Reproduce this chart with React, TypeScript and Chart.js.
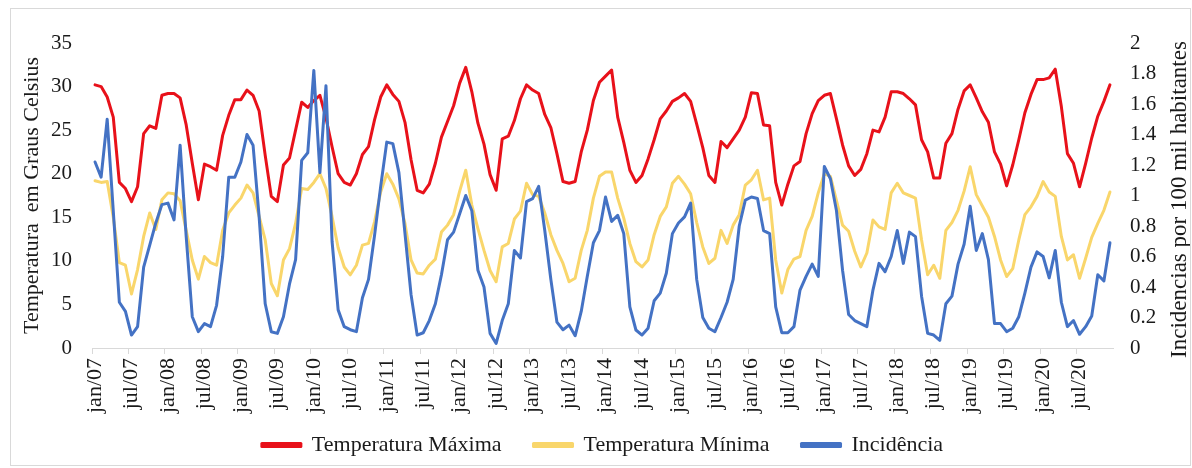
import React, { useEffect, useRef } from "react";
import { Chart, registerables } from "chart.js";

Chart.register(...registerables);

const years = ["07", "08", "09", "10", "11", "12", "13", "14", "15", "16", "17", "18", "19", "20"];
const monthNames = ["jan", "fev", "mar", "abr", "mai", "jun", "jul", "ago", "set", "out", "nov", "dez"];

// Temperatura Máxima (°C), jan/2007 .. dez/2020
const tempMax = [
  30.2, 30.0, 28.8, 26.5, 19.0, 18.3, 16.8, 18.5, 24.6, 25.5, 25.2, 29.0,
  29.2, 29.2, 28.7, 25.6, 21.2, 17.0, 21.1, 20.8, 20.4, 24.4, 26.7, 28.5,
  28.5, 29.6, 29.0, 27.2, 22.1, 17.4, 16.8, 21.0, 21.8, 25.0, 28.2, 27.6,
  28.4, 29.0, 26.4, 23.1, 20.0, 19.0, 18.7, 20.0, 22.2, 23.1, 26.2, 28.8,
  30.2, 29.1, 28.3, 25.9, 21.6, 18.1, 17.8, 18.8, 21.2, 24.2, 26.0, 27.8,
  30.4, 32.2, 29.4, 25.8, 23.4, 19.9, 18.1, 24.0, 24.3, 26.1, 28.6, 30.2,
  29.6, 29.2, 26.8, 25.3, 22.3, 19.1, 18.9, 19.1, 22.5, 25.0, 28.4, 30.5,
  31.2, 31.9, 26.5, 23.6, 20.4, 19.0, 19.8, 21.7, 23.9, 26.3, 27.2, 28.3,
  28.7, 29.2, 28.3, 25.7, 23.0, 19.8, 19.0, 23.7, 23.0, 24.0, 25.0, 26.5,
  29.3, 29.2, 25.6, 25.5, 19.0, 16.4, 18.8, 20.9, 21.4, 24.6, 26.9, 28.4,
  29.0, 29.2, 26.3, 23.3, 20.9, 19.8, 20.5, 22.3, 25.0, 24.8, 26.5, 29.4,
  29.4, 29.2, 28.6, 27.9, 23.9, 22.5, 19.5, 19.5, 23.5, 24.6, 27.4, 29.5,
  30.2, 28.7, 27.1, 25.9, 22.5, 21.1, 18.6, 21.0, 23.9, 27.0, 29.1, 30.8,
  30.8, 31.0, 32.0, 27.7, 22.3, 21.2, 18.5, 21.2, 24.1, 26.6, 28.3, 30.2,
];

// Temperatura Mínima (°C)
const tempMin = [
  19.2, 19.0, 19.1, 15.0, 9.8, 9.5, 6.2, 9.0, 12.8, 15.5, 13.6, 17.0,
  17.8, 17.7, 16.9, 13.5, 10.1, 7.9, 10.5, 9.8, 9.5, 13.5, 15.5, 16.4,
  17.2, 18.7, 17.8, 15.1, 12.4, 7.4, 6.0, 10.1, 11.4, 14.3, 18.3, 18.2,
  19.0, 20.0, 18.3, 15.1, 11.5, 9.3, 8.4, 9.5, 11.8, 12.0, 14.5, 17.9,
  20.0, 18.8, 17.1, 14.3, 10.1, 8.6, 8.5, 9.5, 10.2, 13.3, 14.1, 15.3,
  18.0, 20.4, 16.4, 13.7, 11.2, 8.9, 7.6, 11.6, 12.0, 14.8, 15.7, 18.9,
  17.6, 17.4, 15.5, 13.0, 11.2, 9.7, 7.6, 8.0, 11.2, 13.5, 17.2, 19.7,
  20.2, 20.2, 17.2, 14.9, 12.0, 9.9, 9.3, 10.1, 13.0, 15.1, 16.2, 18.9,
  19.7, 18.8, 17.7, 14.4, 11.6, 9.7, 10.3, 13.5, 12.0, 14.1, 15.3, 18.7,
  19.3, 20.4, 17.0, 17.2, 10.1, 6.3, 9.0, 10.2, 10.5, 13.5, 15.1, 17.8,
  20.0, 19.7, 16.9, 14.1, 13.4, 11.1, 9.3, 10.9, 14.7, 13.9, 13.6, 17.8,
  18.9, 17.8, 17.5, 17.2, 12.4, 8.4, 9.5, 8.0, 13.5, 14.4, 15.8, 18.0,
  20.8, 17.6, 16.3, 15.0, 12.8, 10.1, 8.2, 9.1, 12.4, 15.3, 16.2, 17.4,
  19.1, 17.9, 17.4, 12.8, 10.1, 10.7, 8.0, 10.3, 12.7, 14.3, 15.8, 17.9,
];

// Incidência (por 100 mil habitantes)
const incidence = [
  1.22, 1.12, 1.50, 0.90, 0.30, 0.24, 0.085, 0.14, 0.53, 0.675, 0.82, 0.94,
  0.95, 0.84, 1.33, 0.73, 0.205, 0.107, 0.16, 0.14, 0.28, 0.60, 1.12, 1.12,
  1.22, 1.40, 1.33, 0.86, 0.29, 0.107, 0.096, 0.205, 0.42, 0.58, 1.23, 1.28,
  1.82, 1.15, 1.72, 0.70, 0.25, 0.14, 0.12, 0.107, 0.33, 0.45, 0.74, 1.06,
  1.35, 1.34, 1.15, 0.75, 0.35, 0.085, 0.10, 0.18, 0.29, 0.48, 0.71, 0.76,
  0.88, 1.0, 0.90, 0.51, 0.40, 0.096, 0.03, 0.18, 0.29, 0.64, 0.59, 0.96,
  0.98, 1.06, 0.77, 0.45, 0.17, 0.12, 0.15, 0.08, 0.24, 0.47, 0.69, 0.77,
  0.99, 0.83, 0.87, 0.75, 0.27, 0.118, 0.085, 0.13, 0.31, 0.36, 0.49, 0.75,
  0.82, 0.86, 0.95, 0.45, 0.20, 0.13, 0.107, 0.20, 0.30, 0.45, 0.80, 0.97,
  0.99, 0.98, 0.77, 0.75, 0.27, 0.10, 0.10, 0.14, 0.38, 0.47, 0.55, 0.47,
  1.19, 1.11, 0.90, 0.51, 0.22, 0.18, 0.16, 0.14, 0.38, 0.555, 0.50, 0.60,
  0.77, 0.555, 0.76, 0.73, 0.34, 0.096, 0.085, 0.05, 0.29, 0.34, 0.55, 0.68,
  0.93, 0.64, 0.75, 0.58, 0.16, 0.16, 0.107, 0.13, 0.205, 0.36, 0.53, 0.63,
  0.60, 0.46, 0.64, 0.30, 0.14, 0.18, 0.09, 0.14, 0.21, 0.48, 0.44, 0.69,
];

const categories = years.flatMap((y) => monthNames.map((m) => `${m}/${y}`));

const leftTitle = "Temperatura  em Graus Celsius";
const rightTitle = "Incidencias por 100 mil habitantes";
const seriesNames = ["Temperatura Máxima", "Temperatura Mínima", "Incidência"];
const seriesColors = ["#e8111a", "#f9d66b", "#4472c4"];

const FONT = '"Liberation Serif", "Times New Roman", serif';
const TEXT = "#1a1a1a";
const AXIS_GRAY = "#d9d9d9";
const LEGEND_GAP = "\u2002\u2002";

const rightTitlePlugin = {
  id: "rightTitle",
  afterDraw(chart: any) {
    const { ctx, chartArea } = chart;
    const s = chart.scales.y1;
    ctx.save();
    ctx.translate(s.right - 12, (chartArea.top + chartArea.bottom) / 2 + 4);
    ctx.rotate(-Math.PI / 2);
    ctx.font = `23px ${FONT}`;
    ctx.fillStyle = TEXT;
    ctx.textAlign = "center";
    ctx.textBaseline = "middle";
    ctx.fillText(rightTitle, 0, 0);
    ctx.restore();
  },
};

export default function App() {
  const ref = useRef<HTMLCanvasElement | null>(null);

  useEffect(() => {
    if (!ref.current) return;
    const mk = (i: number, data: number[], axis: string, order: number) => ({
      label: seriesNames[i],
      data,
      borderColor: seriesColors[i],
      backgroundColor: seriesColors[i],
      borderWidth: 3,
      pointRadius: 0,
      tension: 0,
      yAxisID: axis,
      order,
    });
    const defaultLabels = (Chart as any).defaults.plugins.legend.labels.generateLabels;
    const chart = new Chart(ref.current, {
      type: "line",
      data: {
        labels: categories,
        datasets: [
          mk(0, tempMax, "y", 3),
          mk(1, tempMin, "y", 2),
          mk(2, incidence, "y1", 1),
        ],
      },
      options: {
        animation: false,
        responsive: true,
        maintainAspectRatio: false,
        devicePixelRatio: 1,
        layout: { padding: { top: 43, bottom: 2, left: 0, right: 0 } },
        elements: { line: { borderJoinStyle: "round", borderCapStyle: "round" } },
        plugins: {
          tooltip: { enabled: false },
          legend: {
            position: "bottom",
            fullSize: false,
            labels: {
              boxWidth: 39,
              boxHeight: 3,
              padding: 10,
              color: TEXT,
              font: { family: FONT, size: 22 },
              generateLabels: (c: any) => {
                const items = defaultLabels(c).sort((a: any, b: any) => a.datasetIndex - b.datasetIndex);
                return items.map((it: any, k: number) => ({
                  ...it,
                  text: k < items.length - 1 ? it.text + LEGEND_GAP : it.text,
                }));
              },
            },
          },
        },
        scales: {
          x: {
            type: "category",
            offset: true,
            grid: {
              offset: true,
              drawOnChartArea: false,
              drawTicks: true,
              tickLength: 6,
              color: (c: any) => (c.index % 6 === 0 ? AXIS_GRAY : "transparent"),
              tickColor: (c: any) => (c.index % 6 === 0 ? AXIS_GRAY : "transparent"),
            },
            border: { display: true, color: AXIS_GRAY, width: 1 },
            ticks: {
              autoSkip: false,
              minRotation: 90,
              maxRotation: 90,
              padding: 4,
              color: TEXT,
              font: { family: FONT, size: 22 },
              callback: (_v: any, i: number) => (i % 6 === 0 ? categories[i] : ""),
            },
            afterFit: (s: any) => {
              s.height = 76;
            },
          },
          y: {
            position: "left",
            min: 0,
            max: 35,
            grid: { display: false, drawTicks: false },
            border: { display: false },
            ticks: {
              stepSize: 5,
              padding: 20,
              color: TEXT,
              font: { family: FONT, size: 21 },
            },
            title: {
              display: true,
              text: leftTitle,
              color: TEXT,
              font: { family: FONT, size: 22 },
              padding: { top: 19, bottom: 0 },
            },
            afterFit: (s: any) => {
              s.width = 92;
            },
          },
          y1: {
            position: "right",
            min: 0,
            max: 2,
            grid: { display: false, drawTicks: false },
            border: { display: false },
            ticks: {
              stepSize: 0.2,
              padding: 17,
              color: TEXT,
              font: { family: FONT, size: 21 },
              callback: (v: any) => String(Number(Number(v).toFixed(1))),
            },
            afterFit: (s: any) => {
              s.width = 79;
            },
          },
        },
      },
      plugins: [rightTitlePlugin],
    });
    return () => chart.destroy();
  }, []);

  return (
    <div
      style={{
        position: "fixed",
        left: 0,
        top: 0,
        width: 1192,
        height: 468,
        background: "#ffffff",
      }}
    >
      <canvas ref={ref} />
      <div
        style={{
          position: "absolute",
          left: 10,
          top: 8,
          width: 1179,
          height: 456,
          border: "1px solid #d9d9d9",
          pointerEvents: "none",
        }}
      />
    </div>
  );
}
